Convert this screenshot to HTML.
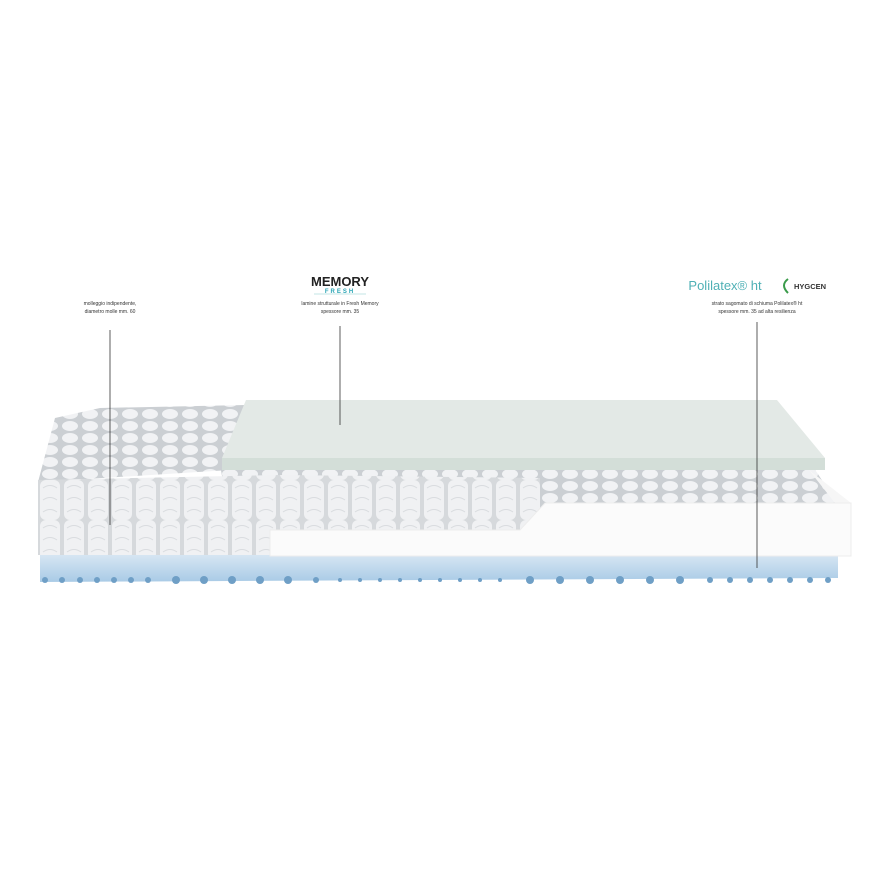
<!DOCTYPE html>
<html><head><style>body{margin:0;background:#fff}svg{display:block}</style></head><body>
<svg width="870" height="870" viewBox="0 0 870 870" font-family="Liberation Sans, sans-serif">
<defs>
<pattern id="sp" x="38" y="0" width="24" height="40" patternUnits="userSpaceOnUse">
<rect width="24" height="40" fill="#d6d9dc"/>
<rect x="2" y="0" width="20" height="40" rx="6" fill="#f0f1f3"/>
<path d="M5 8 q7 -5 14 0 M5 20 q7 -5 14 0 M5 32 q7 -5 14 0" stroke="#d9dcdf" fill="none"/>
</pattern>
<pattern id="tp" x="0" y="408" width="20" height="12" patternUnits="userSpaceOnUse">
<rect width="20" height="12" fill="#cbcfd3"/>
<ellipse cx="10" cy="6" rx="8" ry="5" fill="#f1f2f4"/>
</pattern>
<linearGradient id="bl" x1="0" y1="0" x2="0" y2="1"><stop offset="0" stop-color="#dbe9f4"/><stop offset="1" stop-color="#a9cbe6"/></linearGradient>
</defs>
<path d="M40 552 L838 552 L838 578 L40 582 Z" fill="url(#bl)"/>
<g fill="#6f9fc6">
<circle cx="45" cy="580" r="3"/><circle cx="62" cy="580" r="3"/><circle cx="80" cy="580" r="3"/><circle cx="97" cy="580" r="3"/><circle cx="114" cy="580" r="3"/><circle cx="131" cy="580" r="3"/><circle cx="148" cy="580" r="3"/><circle cx="176" cy="580" r="4"/><circle cx="204" cy="580" r="4"/><circle cx="232" cy="580" r="4"/><circle cx="260" cy="580" r="4"/><circle cx="288" cy="580" r="4"/><circle cx="316" cy="580" r="3"/><circle cx="340" cy="580" r="2"/><circle cx="360" cy="580" r="2"/><circle cx="380" cy="580" r="2"/><circle cx="400" cy="580" r="2"/><circle cx="420" cy="580" r="2"/><circle cx="440" cy="580" r="2"/><circle cx="460" cy="580" r="2"/><circle cx="480" cy="580" r="2"/><circle cx="500" cy="580" r="2"/><circle cx="530" cy="580" r="4"/><circle cx="560" cy="580" r="4"/><circle cx="590" cy="580" r="4"/><circle cx="620" cy="580" r="4"/><circle cx="650" cy="580" r="4"/><circle cx="680" cy="580" r="4"/><circle cx="710" cy="580" r="3"/><circle cx="730" cy="580" r="3"/><circle cx="750" cy="580" r="3"/><circle cx="770" cy="580" r="3"/><circle cx="790" cy="580" r="3"/><circle cx="810" cy="580" r="3"/><circle cx="828" cy="580" r="3"/>
</g>
<path d="M55 418 L100 408 L245 405 L230 470 L38 482 Z" fill="url(#tp)"/>
<path d="M220 465 L810 462 L835 500 L840 512 L230 520 Z" fill="url(#tp)"/>
<path d="M38 480 L280 475 L540 478 L540 555 L38 555 Z" fill="url(#sp)"/>
<path d="M246 400 L777 400 L825 458 L222 458 Z" fill="#e3e9e6"/>
<path d="M222 458 L825 458 L825 470 L222 470 Z" fill="#d3ded8"/>
<path d="M809 470 L851 503 L851 556 L270 556 L270 530 L520 530 L545 503 L835 503 Z" fill="#f6f6f6"/>
<path d="M270 530 L520 530 L545 503 L851 503 L851 556 L270 556 Z" fill="#fbfbfb" stroke="#ededed" stroke-width="1"/>
<g stroke="#333" stroke-width="0.8">
<line x1="110" y1="330" x2="110" y2="525"/>
<line x1="340" y1="326" x2="340" y2="425"/>
<line x1="757" y1="322" x2="757" y2="568"/>
</g>
<g font-size="5" fill="#333" text-anchor="middle">
<text x="110" y="305">molleggio indipendente,</text>
<text x="110" y="313">diametro molle mm. 60</text>
<text x="340" y="305">lamine strutturale in Fresh Memory</text>
<text x="340" y="313">spessore mm. 35</text>
<text x="757" y="305">strato sagomato di schiuma Polilatex® ht</text>
<text x="757" y="313">spessore mm. 35 ad alta resilienza</text>
</g>
<text x="340" y="286" font-size="13" font-weight="bold" fill="#222" text-anchor="middle">MEMORY</text>
<line x1="314" y1="294" x2="366" y2="294" stroke="#8cc" stroke-width="0.6"/>
<text x="340" y="293" font-size="6" font-weight="bold" fill="#2aa5b5" text-anchor="middle" letter-spacing="2">FRESH</text>
<text x="725" y="290" font-size="13" fill="#4fb0b5" text-anchor="middle">Polilatex® ht</text>
<path d="M788 279 q-8 6 0 14" stroke="#3a9b4a" stroke-width="2" fill="none"/>
<text x="810" y="289" font-size="7.5" font-weight="bold" fill="#333" text-anchor="middle">HYGCEN</text>
</svg>
</body></html>
